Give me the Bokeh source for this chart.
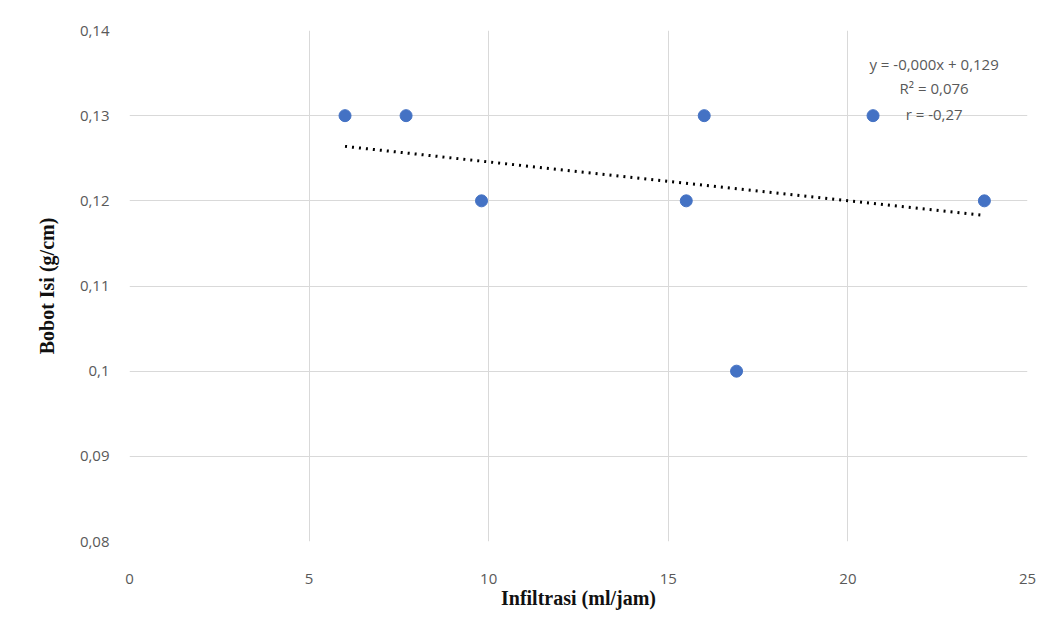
import numpy as np
from bokeh.plotting import figure
from bokeh.models import ColumnDataSource, CustomJSTickFormatter, FixedTicker, Label
from bokeh.embed import file_html
from bokeh.resources import INLINE

# Data
infiltrasi = [6.0, 7.7, 9.8, 15.5, 16.0, 16.9, 20.7, 23.8]
bobot_isi = [0.13, 0.13, 0.12, 0.12, 0.13, 0.10, 0.13, 0.12]
x_ticks = [0, 5, 10, 15, 20, 25]
y_ticks = [0.08, 0.09, 0.10, 0.11, 0.12, 0.13, 0.14]
eq_lines = ["y = -0,000x + 0,129", "R\u00b2 = 0,076", "r = -0,27"]

# Linear trend
slope, intercept = np.polyfit(infiltrasi, bobot_isi, 1)
tx = [min(infiltrasi), max(infiltrasi)]
ty = [slope * v + intercept for v in tx]

p = figure(width=1036, height=628, x_range=(0, 25), y_range=(0.08, 0.14),
           output_backend="svg", toolbar_location=None,
           min_border_left=129, min_border_right=9,
           min_border_top=30, min_border_bottom=87)
p.outline_line_color = None
p.background_fill_color = "white"
p.border_fill_color = "white"

grid_color = "#d9d9d9"
p.xgrid.grid_line_color = grid_color
p.ygrid.grid_line_color = grid_color
p.xgrid.ticker = FixedTicker(ticks=x_ticks)
p.ygrid.ticker = FixedTicker(ticks=y_ticks)

p.xaxis.ticker = FixedTicker(ticks=x_ticks)
p.yaxis.ticker = FixedTicker(ticks=y_ticks)
fmt = CustomJSTickFormatter(code="return String(Math.round(tick*100)/100).replace('.', ',');")
p.xaxis.formatter = fmt
p.yaxis.formatter = fmt

for ax in (p.xaxis[0], p.yaxis[0]):
    ax.axis_line_color = None
    ax.major_tick_line_color = None
    ax.minor_tick_line_color = None
    ax.major_label_text_font = "Open Sans"
    ax.major_label_text_font_size = "15px"
    ax.major_label_text_color = "#595959"
    ax.axis_label_text_font = "Liberation Serif"
    ax.axis_label_text_font_style = "bold"
    ax.axis_label_text_font_size = "20px"
    ax.axis_label_text_color = "#111111"

p.xaxis.axis_label = "Infiltrasi (ml/jam)"
p.yaxis.axis_label = "Bobot Isi (g/cm)"
p.xaxis.major_label_standoff = 26
p.xaxis.axis_label_standoff = 0
p.yaxis.major_label_standoff = 14
p.yaxis.axis_label_standoff = 19

# Trendline
p.line(tx, ty, line_color="black", line_width=3, line_dash="2 5")

# Points
src = ColumnDataSource(dict(x=infiltrasi, y=bobot_isi))
p.scatter("x", "y", source=src, size=12, fill_color="#4472C4", line_color="#4472C4")

# Equation labels
label_y = [0.1361, 0.1332, 0.1302]
for txt, yy in zip(eq_lines, label_y):
    p.add_layout(Label(x=22.4, y=yy, text=txt, text_align="center", text_baseline="middle",
                       text_font="Open Sans", text_font_size="15px", text_color="#595959"))

open("out.html", "w").write(file_html(p, INLINE))
